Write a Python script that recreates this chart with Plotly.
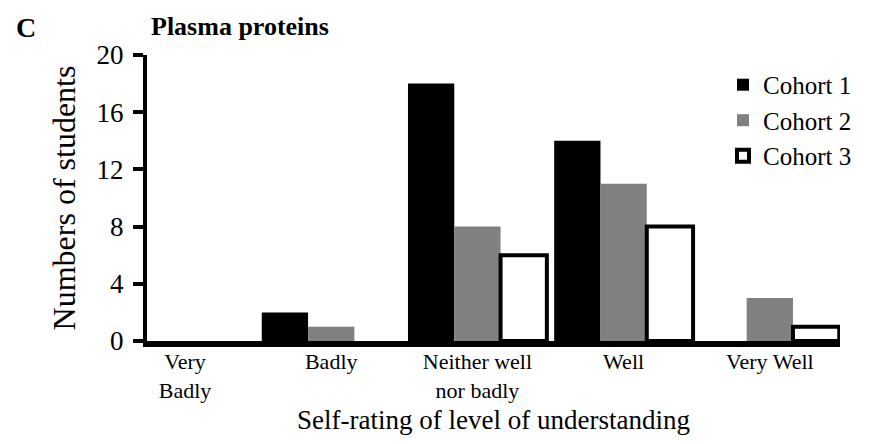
import plotly.graph_objects as go

categories = ["Very<br>Badly", "Badly", "Neither well<br>nor badly", "Well", "Very Well"]
cohort1 = [0, 2, 18, 14, 0]
cohort2 = [0, 1, 8, 11, 3]
cohort3 = [0, 0, 6, 8, 1]
series_names = ["Cohort 1", "Cohort 2", "Cohort 3"]
y_ticks = [0, 4, 8, 12, 16, 20]

FONT = "Liberation Serif"

# plot area in page pixels (page has an 8px body margin)
PL, PT, PW, PH = 147, 55, 693, 288


def px(x):
    return (x - PL) / PW


def py(y):
    return (PT + PH - y) / PH


def nz(vals):
    return [v if v else None for v in vals]


fig = go.Figure()
fig.add_trace(go.Bar(x=categories, y=nz(cohort1), name=series_names[0],
                     marker=dict(color="black", line=dict(width=0))))
fig.add_trace(go.Bar(x=categories, y=nz(cohort2), name=series_names[1],
                     marker=dict(color="#808080", line=dict(width=0))))
fig.add_trace(go.Bar(x=categories, y=nz(cohort3), name=series_names[2],
                     marker=dict(color="white", line=dict(color="black", width=4))))

fig.update_layout(
    width=876, height=436,
    margin=dict(l=PL - 8, r=876 - (PL - 8) - PW, t=PT - 8, b=436 - (PT - 8) - PH),
    paper_bgcolor="white", plot_bgcolor="white",
    barmode="group", bargap=0.05, bargroupgap=0,
    font=dict(family=FONT, color="black", size=20),
    legend=dict(x=px(723), y=py(62), xanchor="left", yanchor="top",
                font=dict(size=25, family=FONT, color="black"), bgcolor="rgba(0,0,0,0)",
                tracegroupgap=0, itemwidth=30),
    showlegend=True,
    annotations=[
        dict(text="<b>C</b>", x=px(14), y=py(27), xref="paper", yref="paper", showarrow=False,
             font=dict(size=28, family=FONT, color="black"), xanchor="left", yanchor="middle"),
        dict(text="<b>Plasma proteins</b>", x=px(149), y=py(26), xref="paper", yref="paper",
             showarrow=False, font=dict(size=26, family=FONT, color="black"),
             xanchor="left", yanchor="middle"),
    ],
)

fig.update_xaxes(
    type="category", range=[-0.26, 4.48],
    showline=True, linecolor="black", linewidth=6,
    ticks="", showgrid=False, zeroline=False,
    ticklabelstandoff=-4,
    tickfont=dict(size=22, family=FONT, color="black"),
    title=dict(text="Self-rating of level of understanding",
               font=dict(size=27, family=FONT, color="black"), standoff=10),
)
fig.update_yaxes(
    range=[0, 20], tickvals=y_ticks,
    showline=True, linecolor="black", linewidth=4,
    ticks="outside", ticklen=10, tickwidth=4, tickcolor="black",
    ticklabelstandoff=4,
    showgrid=False, zeroline=False,
    tickfont=dict(size=27, family=FONT, color="black"),
    title=dict(text="Numbers of students", font=dict(size=32, family=FONT, color="black"), standoff=12),
)

fig.write_html("out.html")
